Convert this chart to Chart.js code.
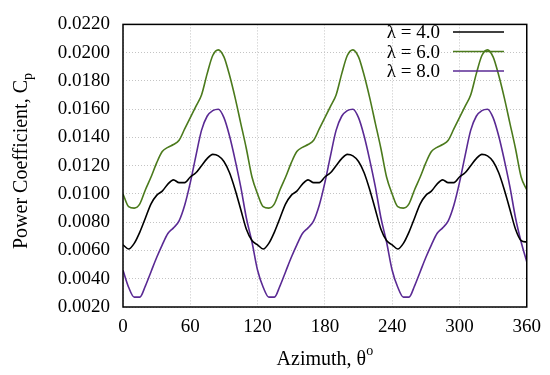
<!DOCTYPE html>
<html>
<head>
<meta charset="utf-8">
<script src="https://cdn.jsdelivr.net/npm/chart.js@4"></script>
<style>
  html, body { margin: 0; padding: 0; background: #fff; }
  #wrap { width: 550px; height: 375px; }
</style>
</head>
<body>
<div id="wrap"><canvas id="cp"></canvas></div>
<script>
// azimuth angle, degrees
const theta = [0,5,10,15,20,25,30,35,40,45,50,55,60,65,70,75,80,85,90,95,100,105,110,115,
  120,125,130,135,140,145,150,155,160,165,170,175,180,185,190,195,200,205,210,215,220,225,230,235,
  240,245,250,255,260,265,270,275,280,285,290,295,300,305,310,315,320,325,330,335,340,345,350,355,360];

const cpL4 = [0.0064,0.0061,0.0065,0.0073,0.0083,0.0093,0.0099,0.0102,0.0107,0.0110,0.0108,0.0108,0.0112,0.0115,0.0120,0.0125,0.0128,0.0127,0.0123,0.0115,0.0103,0.0089,0.0075,0.0067,
  0.0064,0.0061,0.0065,0.0073,0.0083,0.0093,0.0099,0.0102,0.0107,0.0110,0.0108,0.0108,0.0112,0.0115,0.0120,0.0125,0.0128,0.0127,0.0123,0.0115,0.0103,0.0089,0.0075,0.0067,
  0.0064,0.0061,0.0065,0.0073,0.0083,0.0093,0.0099,0.0102,0.0107,0.0110,0.0108,0.0108,0.0112,0.0115,0.0120,0.0125,0.0128,0.0127,0.0123,0.0115,0.0103,0.0089,0.0075,0.0067,0.0066];

const cpL6 = [0.0100,0.0091,0.0090,0.0093,0.0103,0.0112,0.0122,0.0130,0.0133,0.0135,0.0138,0.0146,0.0154,0.0162,0.0170,0.0185,0.0198,0.0202,0.0197,0.0184,0.0168,0.0150,0.0132,0.0112,
  0.0100,0.0091,0.0090,0.0093,0.0103,0.0112,0.0122,0.0130,0.0133,0.0135,0.0138,0.0146,0.0154,0.0162,0.0170,0.0185,0.0198,0.0202,0.0197,0.0184,0.0168,0.0150,0.0132,0.0112,
  0.0100,0.0091,0.0090,0.0093,0.0103,0.0112,0.0122,0.0130,0.0133,0.0135,0.0138,0.0146,0.0154,0.0162,0.0170,0.0185,0.0198,0.0202,0.0197,0.0184,0.0168,0.0150,0.0132,0.0112,0.0103];

const cpL8 = [0.0046,0.0034,0.0027,0.0027,0.0035,0.0045,0.0055,0.0064,0.0072,0.0076,0.0081,0.0092,0.0108,0.0127,0.0145,0.0155,0.0159,0.0160,0.0154,0.0141,0.0124,0.0105,0.0083,0.0066,
  0.0046,0.0034,0.0027,0.0027,0.0035,0.0045,0.0055,0.0064,0.0072,0.0076,0.0081,0.0092,0.0108,0.0127,0.0145,0.0155,0.0159,0.0160,0.0154,0.0141,0.0124,0.0105,0.0083,0.0066,
  0.0046,0.0034,0.0027,0.0027,0.0035,0.0045,0.0055,0.0064,0.0072,0.0076,0.0081,0.0092,0.0108,0.0127,0.0145,0.0155,0.0159,0.0160,0.0154,0.0141,0.0124,0.0105,0.0083,0.0066,0.0052];

const seriesLabels = ['λ = 4.0', 'λ = 6.0', 'λ = 8.0'];
const seriesColors = ['#000000', '#4b7a1c', '#5a2a94'];

const FONT = '"Liberation Serif", "Times New Roman", serif';

const pts = arr => theta.map((t, i) => ({ x: t, y: arr[i] }));

// frame, axis titles (with sub/superscript) and legend, gnuplot style
const decor = {
  id: 'decor',
  afterDraw(chart) {
    const ctx = chart.ctx, a = chart.chartArea;
    ctx.save();
    ctx.strokeStyle = '#000';
    ctx.lineWidth = 1.5;
    ctx.strokeRect(a.left, a.top, a.right - a.left, a.bottom - a.top);

    ctx.fillStyle = '#000';
    ctx.textBaseline = 'alphabetic';
    ctx.textAlign = 'left';

    // x title
    const xt = 'Azimuth, θ';
    ctx.font = '14px ' + FONT;
    const supW = ctx.measureText('o').width;
    ctx.font = '20px ' + FONT;
    const xw = ctx.measureText(xt).width;
    const x0 = (a.left + a.right) / 2 - (xw + supW) / 2;
    ctx.fillText(xt, x0, 365);
    ctx.font = '14px ' + FONT;
    ctx.fillText('o', x0 + xw, 355);

    // y title
    ctx.translate(27, 161);
    ctx.rotate(-Math.PI / 2);
    const yt = 'Power Coefficient, C';
    ctx.font = '20px ' + FONT;
    const yw = ctx.measureText(yt).width;
    ctx.font = '14px ' + FONT;
    const subW = ctx.measureText('p').width;
    const y0 = -(yw + subW) / 2;
    ctx.font = '20px ' + FONT;
    ctx.fillText(yt, y0, 0);
    ctx.font = '14px ' + FONT;
    ctx.fillText('p', y0 + yw, 5);
    ctx.restore();

    // legend: text right-aligned, line sample to the right
    ctx.save();
    ctx.font = '19px ' + FONT;
    ctx.textAlign = 'right';
    ctx.textBaseline = 'alphabetic';
    chart.data.datasets.forEach((ds, i) => {
      const yy = 32 + i * 19.5;
      ctx.fillStyle = '#000';
      ctx.fillText(ds.label, 440, yy + 6);
      ctx.strokeStyle = ds.borderColor;
      ctx.lineWidth = 1.6;
      ctx.beginPath();
      ctx.moveTo(453, yy);
      ctx.lineTo(504, yy);
      ctx.stroke();
    });
    ctx.restore();
  }
};

new Chart(document.getElementById('cp'), {
  type: 'line',
  data: {
    datasets: [cpL4, cpL6, cpL8].map((arr, i) => ({
      label: seriesLabels[i],
      data: pts(arr),
      borderColor: seriesColors[i],
      borderWidth: 1.6,
      pointRadius: 0,
      cubicInterpolationMode: 'monotone',
      fill: false
    }))
  },
  options: {
    responsive: true,
    maintainAspectRatio: false,
    animation: false,
    layout: { padding: { left: 0, top: 17, right: 23, bottom: 0 } },
    plugins: { legend: { display: false }, tooltip: { enabled: false } },
    scales: {
      x: {
        type: 'linear',
        min: 0, max: 360,
        afterFit: s => { s.height = 68; },
        ticks: { stepSize: 60, padding: 9, color: '#000', font: { family: FONT, size: 19 } },
        grid: { color: '#c4c4c4', lineWidth: 1, drawTicks: false },
        border: { display: false, dash: [1, 2] }
      },
      y: {
        min: 0.002, max: 0.022,
        afterFit: s => { s.width = 123; },
        ticks: {
          stepSize: 0.002, padding: 13, color: '#000',
          font: { family: FONT, size: 19 },
          callback: v => v.toFixed(4)
        },
        grid: { color: '#c4c4c4', lineWidth: 1, drawTicks: false },
        border: { display: false, dash: [1, 2] }
      }
    }
  },
  plugins: [decor]
});
</script>
</body>
</html>
